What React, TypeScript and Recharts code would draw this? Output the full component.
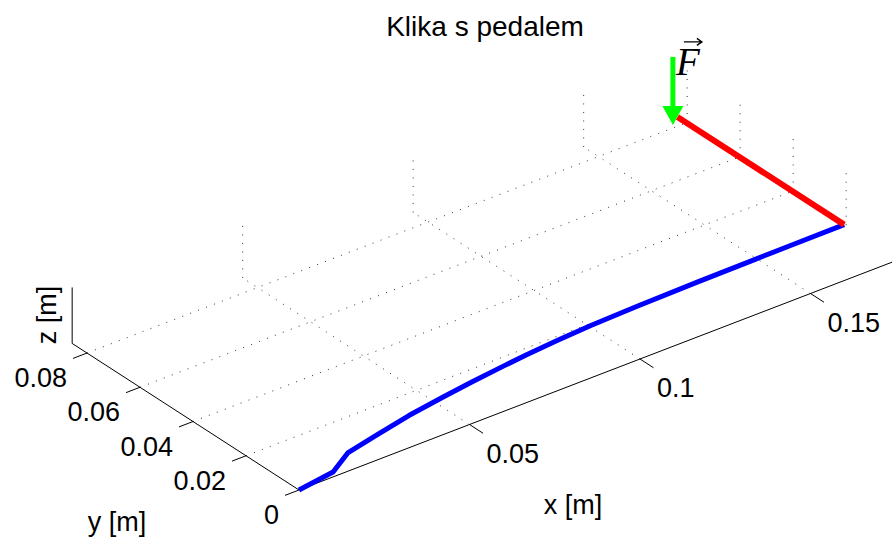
import React from 'react';
import { ComposedChart, XAxis, YAxis, Line, ReferenceLine, ReferenceDot } from 'recharts';

// crank centre line in metres, it lies on the floor z = 0
const crankX = [0, 0.0114, 0.0195, 0.03, 0.0414, 0.053, 0.0627, 0.0735, 0.0805, 0.09, 0.1005, 0.1143, 0.1324, 0.149, 0.16, 0.1758];
const crankY = [0, 0.0018, 0.0067, 0.0092, 0.0118, 0.0138, 0.0153, 0.0167, 0.0175, 0.0184, 0.0192, 0.0197, 0.0201, 0.0203, 0.0204, 0.0205];

// pedal axle
const pedalX = [0.1758, 0.1758];
const pedalY = [0.0205, 0.0834];

// force arrow (top of shaft, tip)
const forceX = 0.1757;
const forceY = 0.085;
const forceZ = [0.0205, -0.0038];

const xLim = [0, 0.176];
const yLim = [0, 0.0856];
const zLim = [0, 0.02];
const xTicks = [0.05, 0.1, 0.15];
const xTickLabels = ['0.05', '0.1', '0.15'];
const yTicks = [0, 0.02, 0.04, 0.06, 0.08];
const yTickLabels = ['0', '0.02', '0.04', '0.06', '0.08'];

const W = 892;
const H = 545;

// view: screen point of the origin, pixels per metre along x, y, z
const O = [299, 490];
const EX = [3410, -1310];
const EY = [-2650, -1712];
const EZ = [0, -2800];

const proj = (x: number, y: number, z = 0) => ({
  x: O[0] + EX[0] * x + EY[0] * y + EZ[0] * z,
  y: O[1] + EX[1] * x + EY[1] * y + EZ[1] * z,
});

const toPts = (xs: number[], ys: number[], zs?: number[]) =>
  xs.map((x, i) => {
    const p = proj(x, ys[i], zs ? zs[i] : 0);
    return { u: p.x, v: p.y };
  });

const crankPts = toPts(crankX, crankY);
const pedalPts = toPts(pedalX, pedalY);
const HEAD = 19; // arrow head length, px
const shaftPts = [
  { u: proj(forceX, forceY, forceZ[0]).x, v: proj(forceX, forceY, forceZ[0]).y },
  { u: proj(forceX, forceY, forceZ[1]).x, v: proj(forceX, forceY, forceZ[1]).y - HEAD + 2 },
];

const sans = '"Liberation Sans", Arial, Helvetica, sans-serif';

const textShape = (label: string, dx: number, dy: number, anchor: string, size = 27, rotate = false) =>
  (p: any) => {
    const x = p.cx + dx;
    const y = p.cy + dy;
    return (
      <text
        x={x}
        y={y}
        textAnchor={anchor}
        fontFamily={sans}
        fontSize={size}
        fill="#000"
        transform={rotate ? `rotate(-90 ${x} ${y})` : undefined}
      >
        {label}
      </text>
    );
  };

const headShape = (p: any) => (
  <polygon
    points={`${p.cx},${p.cy} ${p.cx - 10.5},${p.cy - HEAD} ${p.cx + 10.5},${p.cy - HEAD}`}
    fill="#00ff00"
  />
);

const fShape = (p: any) => (
  <g>
    <text x={p.cx + 3} y={p.cy + 18} fontFamily='"Liberation Serif", "Times New Roman", serif' fontStyle="italic" fontSize={39} fill="#000">
      F
    </text>
    <path
      d={`M${p.cx + 11},${p.cy - 15} L${p.cx + 29},${p.cy - 15} M${p.cx + 24},${p.cy - 18.5} L${p.cx + 29},${p.cy - 15} L${p.cx + 24},${p.cy - 11.5}`}
      stroke="#000"
      strokeWidth={1.4}
      fill="none"
    />
  </g>
);

const gridStyle = { stroke: '#333', strokeWidth: 1, strokeDasharray: '1 7.5' };
const axisStyle = { stroke: '#000', strokeWidth: 1 };

const seg = (a: any, b: any, key: string, style: any) => (
  <ReferenceLine key={key} segment={[a, b]} ifOverflow="visible" {...style} />
);

export default function App() {
  const grid = [
    ...yTicks.filter((y) => y > 0).map((y) => seg(proj(0, y), proj(xLim[1], y), `gy${y}`, gridStyle)),
    ...xTicks.map((x) => seg(proj(x, 0), proj(x, yLim[1]), `gx${x}`, gridStyle)),
    ...xTicks.map((x) => seg(proj(x, yLim[1], zLim[0]), proj(x, yLim[1], zLim[1]), `wx${x}`, gridStyle)),
    ...yTicks.filter((y) => y > 0).map((y) => seg(proj(xLim[1], y, zLim[0]), proj(xLim[1], y, zLim[1]), `wy${y}`, gridStyle)),
  ];

  const axes = [
    seg(proj(0, 0), proj(xLim[1], 0), 'xa', axisStyle),
    seg(proj(0, 0), proj(0, yLim[1]), 'ya', axisStyle),
    seg(proj(0, yLim[1], zLim[0]), proj(0, yLim[1], zLim[1]), 'za', axisStyle),
    ...xTicks.map((x) => seg(proj(x, 0), proj(x, -0.0051), `xt${x}`, axisStyle)),
    ...yTicks.map((y) => seg(proj(0, y), proj(-0.0041, y), `yt${y}`, axisStyle)),
  ];

  const tickLabels = [
    ...xTicks.map((x, i) => {
      const p = proj(x, 0);
      return <ReferenceDot key={`xl${x}`} x={p.x} y={p.y} r={0} ifOverflow="visible" shape={textShape(xTickLabels[i], 17, 38, 'start')} />;
    }),
    ...yTicks.map((y, i) => {
      const p = proj(0, y);
      return <ReferenceDot key={`yl${y}`} x={p.x} y={p.y} r={0} ifOverflow="visible" shape={textShape(yTickLabels[i], -20, 34, 'end')} />;
    }),
  ];

  const tip = proj(forceX, forceY, forceZ[1]);
  const top = proj(forceX, forceY, forceZ[0]);

  return (
    <div style={{ position: 'absolute', left: 0, top: 0, width: W, height: H, background: '#fff' }}>
      <ComposedChart width={W} height={H} margin={{ top: 0, right: 0, bottom: 0, left: 0 }}>
        <XAxis type="number" dataKey="u" domain={[0, W]} hide allowDataOverflow />
        <YAxis type="number" dataKey="v" domain={[0, H]} reversed hide allowDataOverflow />
        {grid}
        {axes}
        <Line data={crankPts} dataKey="v" type="linear" stroke="#0000ff" strokeWidth={5} strokeLinejoin="round" dot={false} activeDot={false} isAnimationActive={false} />
        <Line data={pedalPts} dataKey="v" type="linear" stroke="#ff0000" strokeWidth={6} dot={false} activeDot={false} isAnimationActive={false} />
        <Line data={shaftPts} dataKey="v" type="linear" stroke="#00ff00" strokeWidth={5} dot={false} activeDot={false} isAnimationActive={false} />
        <ReferenceDot x={tip.x} y={tip.y} r={0} ifOverflow="visible" shape={headShape} />
        <ReferenceDot x={top.x} y={top.y} r={0} ifOverflow="visible" shape={fShape} />
        {tickLabels}
        <ReferenceDot x={485} y={36} r={0} ifOverflow="visible" shape={textShape('Klika s pedalem', 0, 0, 'middle', 28)} />
        <ReferenceDot x={573} y={514} r={0} ifOverflow="visible" shape={textShape('x [m]', 0, 0, 'middle')} />
        <ReferenceDot x={117} y={531} r={0} ifOverflow="visible" shape={textShape('y [m]', 0, 0, 'middle')} />
        <ReferenceDot x={56} y={315} r={0} ifOverflow="visible" shape={textShape('z [m]', 0, 0, 'middle', 27, true)} />
      </ComposedChart>
    </div>
  );
}
